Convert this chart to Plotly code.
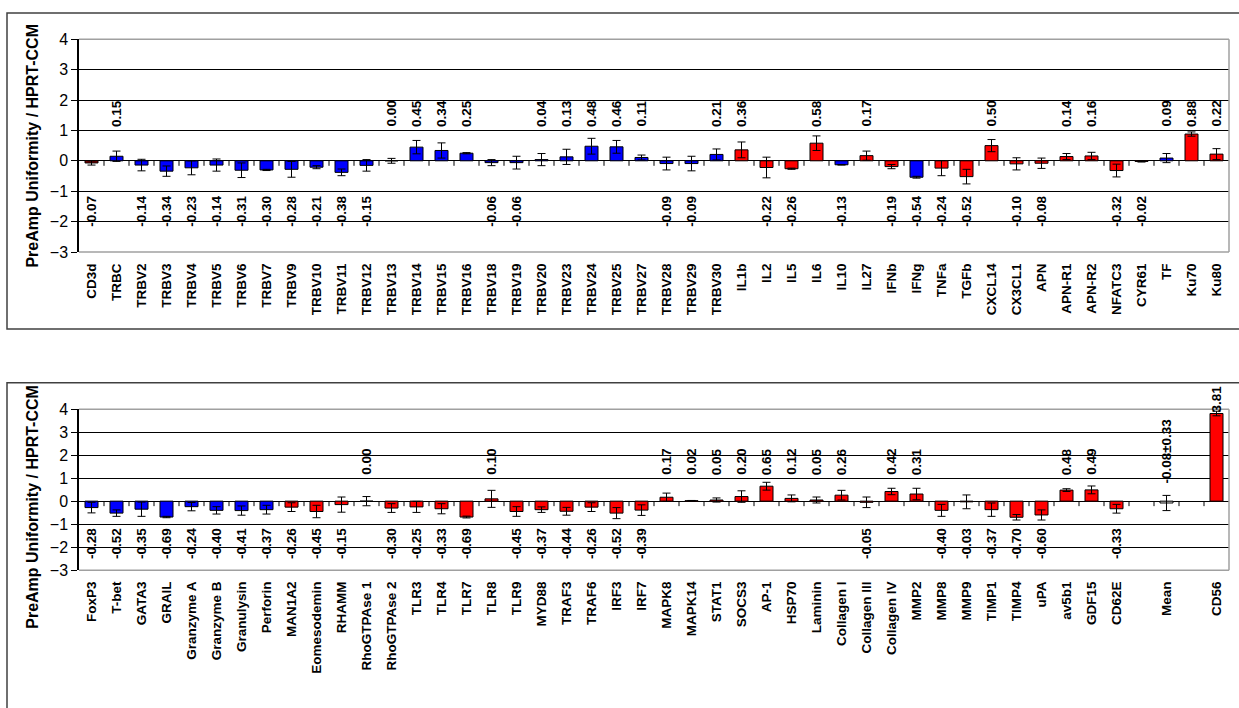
import plotly.graph_objects as go

# ---- upper panel: T-cell receptor chains and cytokines ----
top_genes = ["CD3d", "TRBC", "TRBV2", "TRBV3", "TRBV4", "TRBV5", "TRBV6", "TRBV7", "TRBV9",
             "TRBV10", "TRBV11", "TRBV12", "TRBV13", "TRBV14", "TRBV15", "TRBV16", "TRBV18",
             "TRBV19", "TRBV20", "TRBV23", "TRBV24", "TRBV25", "TRBV27", "TRBV28", "TRBV29",
             "TRBV30", "IL1b", "IL2", "IL5", "IL6", "IL10", "IL27", "IFNb", "IFNg", "TNFa",
             "TGFb", "CXCL14", "CX3CL1", "APN", "APN-R1", "APN-R2", "NFATC3", "CYR61", "TF",
             "Ku70", "Ku80"]
top_values = [-0.07, 0.15, -0.14, -0.34, -0.23, -0.14, -0.31, -0.30, -0.28, -0.21, -0.38, -0.15,
              0.00, 0.45, 0.34, 0.25, -0.06, -0.06, 0.04, 0.13, 0.48, 0.46, 0.11, -0.09, -0.09,
              0.21, 0.36, -0.22, -0.26, 0.58, -0.13, 0.17, -0.19, -0.54, -0.24, -0.52, 0.50,
              -0.10, -0.08, 0.14, 0.16, -0.32, -0.02, 0.09, 0.88, 0.22]
top_errors = [0.07, 0.17, 0.19, 0.17, 0.23, 0.20, 0.24, 0.02, 0.26, 0.05, 0.11, 0.19, 0.08, 0.22,
              0.25, 0.02, 0.10, 0.21, 0.20, 0.25, 0.26, 0.21, 0.08, 0.21, 0.24, 0.18, 0.26, 0.34,
              0.02, 0.24, 0.01, 0.15, 0.07, 0.03, 0.25, 0.24, 0.20, 0.20, 0.17, 0.10, 0.12, 0.21,
              0.02, 0.15, 0.07, 0.18]
# group code per gene: R = reference, T = T-cell gene, S = other
top_group = ["R"] + ["T"] * 25 + ["S", "S", "S", "S", "T", "S", "S", "T", "S", "S", "S", "S",
                                  "S", "S", "S", "S", "S", "T", "S", "S"]

# ---- lower panel: effector, signalling and matrix genes ----
bot_genes = ["FoxP3", "T-bet", "GATA3", "GRAIL", "Granzyme A", "Granzyme B", "Granulysin",
             "Perforin", "MAN1A2", "Eomesodemin", "RHAMM", "RhoGTPAse 1", "RhoGTPAse 2", "TLR3",
             "TLR4", "TLR7", "TLR8", "TLR9", "MYD88", "TRAF3", "TRAF6", "IRF3", "IRF7", "MAPK8",
             "MAPK14", "STAT1", "SOCS3", "AP-1", "HSP70", "Laminin", "Collagen I", "Collagen III",
             "Collagen IV", "MMP2", "MMP8", "MMP9", "TIMP1", "TIMP4", "uPA", "av5b1", "GDF15",
             "CD62E", "", "Mean", "", "CD56"]
bot_values = [-0.28, -0.52, -0.35, -0.69, -0.24, -0.40, -0.41, -0.37, -0.26, -0.45, -0.15, 0.00,
              -0.30, -0.25, -0.33, -0.69, 0.10, -0.45, -0.37, -0.44, -0.26, -0.52, -0.39, 0.17,
              0.02, 0.05, 0.20, 0.65, 0.12, 0.05, 0.26, -0.05, 0.42, 0.31, -0.40, -0.03, -0.37,
              -0.70, -0.60, 0.48, 0.49, -0.33, None, -0.08, None, 3.81]
bot_errors = [0.23, 0.14, 0.31, 0.03, 0.18, 0.16, 0.20, 0.19, 0.19, 0.27, 0.33, 0.20, 0.19, 0.24,
              0.22, 0.04, 0.37, 0.21, 0.12, 0.17, 0.19, 0.24, 0.23, 0.18, 0.01, 0.09, 0.25, 0.17,
              0.15, 0.13, 0.21, 0.23, 0.14, 0.25, 0.26, 0.30, 0.29, 0.12, 0.22, 0.06, 0.17, 0.19,
              None, 0.33, None, 0.10]
bot_group = ["T"] * 8 + ["S"] * 34 + ["", "M", "", "S"]

y_ticks = [-3, -2, -1, 0, 1, 2, 3, 4]
y_title = "PreAmp Uniformity / HPRT-CCM"

GROUP_COLORS = {"R": "#990000", "T": "#0000FF", "S": "#FF0000", "M": "#FFFFFF", "": "#FFFFFF"}
FONT = "Liberation Sans, Arial, sans-serif"
W, H = 1239, 708

# pixel geometry of the two panels
X_LEFT, X_RIGHT = 79, 1229
PANELS = [
    dict(top=32, bottom=250, frame=(5, 329), title_y=141),
    dict(top=411, bottom=576, frame=(384, 760), title_y=511),
]

fig = go.Figure()
annotations = []
shapes = []

datasets = [
    (top_genes, top_values, top_errors, top_group),
    (bot_genes, bot_values, bot_errors, bot_group),
]

for p, (genes, values, errors, groups) in enumerate(datasets):
    xa = "x" if p == 0 else "x2"
    ya = "y" if p == 0 else "y2"
    n = len(genes)
    xs = list(range(n))
    fig.add_trace(go.Bar(
        x=xs, y=values, width=0.52,
        marker=dict(color=[GROUP_COLORS[g] for g in groups],
                    line=dict(color="black", width=1)),
        error_y=dict(type="data", array=[e if e is not None else 0 for e in errors],
                     symmetric=True, color="black", thickness=1, width=4),
        xaxis=xa, yaxis=ya, showlegend=False, hoverinfo="skip",
    ))

    # value labels, rotated
    for i, (g, v, e) in enumerate(zip(genes, values, errors)):
        if v is None:
            continue
        if g == "Mean":
            txt, ypos, yanc = f"{v:.2f}±{e:.2f}", 0.72, "bottom"
        elif v > 1:
            txt, ypos, yanc = f"{v:.2f}", v, "bottom"
        elif v >= 0:
            txt, ypos, yanc = f"{v:.2f}", 1.08, "bottom"
        else:
            txt, ypos, yanc = f"{v:.2f}", -1.12, "top"
        annotations.append(dict(
            x=i, y=ypos, xref=xa, yref=ya, text=txt, showarrow=False, textangle=-90,
            xanchor="center", yanchor=yanc, borderpad=0,
            font=dict(family=FONT, size=13.5, color="black", weight="bold"),
        ))

    # small category-boundary ticks hanging from the zero line
    for i in range(n - 1):
        shapes.append(dict(
            type="line", xref=xa, yref=ya, x0=i + 0.5, x1=i + 0.5,
            ysizemode="pixel", yanchor=0, y0=0, y1=-5,
            line=dict(color="black", width=1), layer="above",
        ))

    geo = PANELS[p]
    # grey frame on the top, right and bottom of the plotting area
    for (x0, y0, x1, y1) in [(0, 1, 1, 1), (1, 0, 1, 1), (0, 0, 1, 0)]:
        shapes.append(dict(
            type="line", xref=f"{xa} domain", yref=f"{ya} domain",
            x0=x0, y0=y0, x1=x1, y1=y1,
            line=dict(color="#A0A0A0", width=1.5), layer="above",
        ))
    # outer chart border
    f0, f1 = geo["frame"]
    shapes.append(dict(
        type="rect", xref="paper", yref="paper",
        x0=7 / W, x1=1.02, y0=1 - f1 / H, y1=1 - f0 / H,
        line=dict(color="#404040", width=1.5), fillcolor="rgba(0,0,0,0)", layer="below",
    ))
    # y-axis title
    annotations.append(dict(
        x=33 / W, y=1 - geo["title_y"] / H, xref="paper", yref="paper",
        text=f"<b>{y_title}</b>", showarrow=False, textangle=-90,
        xanchor="center", yanchor="middle",
        font=dict(family=FONT, size=16, color="black"),
    ))

    dom = [1 - geo["bottom"] / H, 1 - geo["top"] / H]
    xaxis = dict(
        domain=[X_LEFT / W, X_RIGHT / W], anchor=ya, range=[-0.5, n - 0.5],
        tickmode="array", tickvals=xs, ticktext=genes, tickangle=-90,
        ticks="outside", ticklen=5, tickcolor="rgba(0,0,0,0)",
        showgrid=False, zeroline=False, showline=False,
        tickfont=dict(family=FONT, size=13.5, color="black", weight="bold"),
    )
    yaxis = dict(
        domain=dom, anchor=xa, range=[-3, 4], tickmode="array", tickvals=y_ticks,
        showgrid=True, gridcolor="black", gridwidth=1,
        zeroline=True, zerolinecolor="black", zerolinewidth=1,
        showline=True, linecolor="black", linewidth=1.5,
        ticks="outside", ticklen=6, tickcolor="black",
        tickfont=dict(family=FONT, size=16, color="black"),
    )
    if p == 0:
        fig.update_layout(xaxis=xaxis, yaxis=yaxis)
    else:
        fig.update_layout(xaxis2=xaxis, yaxis2=yaxis)

fig.update_layout(
    width=W, height=H, margin=dict(l=0, r=0, t=0, b=0),
    paper_bgcolor="white", plot_bgcolor="white",
    annotations=annotations, shapes=shapes, bargap=0.48,
)

fig.write_html("out.html")
